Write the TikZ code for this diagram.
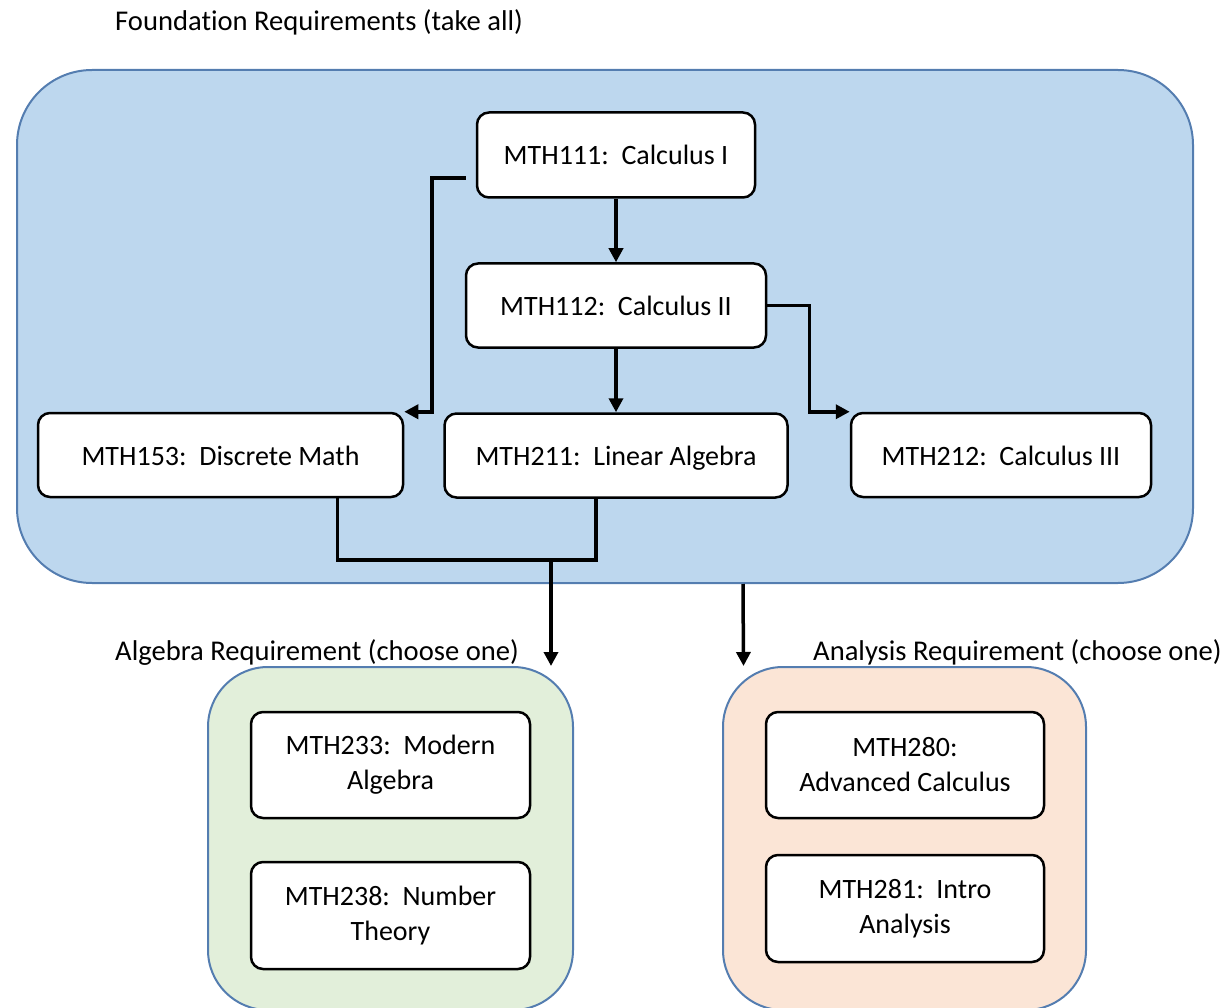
\documentclass[tikz,border=0pt]{standalone}
\usepackage{fontspec}
\setmainfont{Carlito}[Ligatures=NoCommon]
\usepackage{tikz}
\usetikzlibrary{arrows, arrows.meta, positioning}
\definecolor{foundfill}{RGB}{189,215,238}
\definecolor{algfill}{RGB}{226,239,218}
\definecolor{anafill}{RGB}{251,229,214}
\definecolor{groupedge}{RGB}{84,125,176}
\newcommand{\reqfont}{\fontsize{28}{35}\selectfont}
\tikzstyle{group}=[rectangle, draw=groupedge, line width=2pt]
\tikzstyle{course}=[rectangle, rounded corners=12pt, draw=black, fill=white, line width=2.5pt, inner sep=0pt, align=center, font=\reqfont]
\tikzstyle{single}=[text height=20pt, text depth=0pt]
\tikzstyle{heading}=[anchor=base west, inner sep=0pt, font=\fontsize{28.6}{35}\selectfont]
\tikzstyle{link}=[-{Triangle[length=14pt,width=14pt]}, line width=3.5pt]

\begin{document}
\begin{tikzpicture}[x=1pt, y=-1pt]
	\useasboundingbox (0,0) rectangle (1226,1008);

	% the three groups
	\node[group, fill=foundfill, rounded corners=75pt, minimum width=1176pt, minimum height=513pt] (found) at (605,326.5) {};
	\node[group, fill=algfill, rounded corners=60pt, minimum width=365pt, minimum height=343pt] (alg) at (390.5,838.5) {};
	\node[group, fill=anafill, rounded corners=60pt, minimum width=363pt, minimum height=343pt] (ana) at (904.5,838.5) {};

	\node[heading] (foundlbl) at (115,31) {Foundation Requirements (take all)};
	\node[heading] (alglbl) at (115,660) {Algebra Requirement (choose one)};
	\node[heading] (analbl) at (813,660) {Analysis Requirement (choose one)};

	% foundation courses
	\node[course, single, minimum width=278pt, minimum height=85pt] (c111) at (616,155) {MTH111:\ \ Calculus I};
	\node[course, single, minimum width=300pt, minimum height=84pt] (c112) [below=63.5pt of c111] {MTH112:\ \ Calculus II};
	\node[course, single, minimum width=343pt, minimum height=84pt] (c211) [below=63.5pt of c112] {MTH211:\ \ Linear Algebra};
	\node[course, single, minimum width=365pt, minimum height=84pt] (c153) at (220.5,455) {MTH153:\ \ Discrete Math};
	\node[course, single, minimum width=300pt, minimum height=84pt] (c212) at (1001,455) {MTH212:\ \ Calculus III};

	% algebra courses
	\node[course, minimum width=279pt, minimum height=106pt] (c233) at (390.5,765) {MTH233:\ \ Modern\\Algebra};
	\node[course, minimum width=279pt, minimum height=107pt] (c238) [below=41.5pt of c233] {MTH238:\ \ Number\\Theory};

	% analysis courses
	\node[course, minimum width=278pt, minimum height=106pt] (c280) at (905,765) {MTH280:\\Advanced Calculus};
	\node[course, minimum width=278pt, minimum height=107pt] (c281) [below=34.5pt of c280] {MTH281:\ \ Intro\\Analysis};

	\draw[link] (c111) -- (c112);
	\draw[link] (c112) -- (c211);
	\draw[link] ([shift={(-10,23)}]c111.west) -- ++(-34,0) |- (c153.north east);
	\draw[link] (c112.east) -- ++(42,0) |- (c212.north west);

	\coordinate (merge) at (551,560);
	\draw[line width=3.5pt] ([xshift=117pt]c153.south) |- (merge) -| ([xshift=-20pt]c211.south);
	\draw[link] (merge) -- (merge |- alg.north);
	\draw[link] ([xshift=138pt]found.south) -- ([xshift=-161pt]ana.north);
\end{tikzpicture}
\end{document}
